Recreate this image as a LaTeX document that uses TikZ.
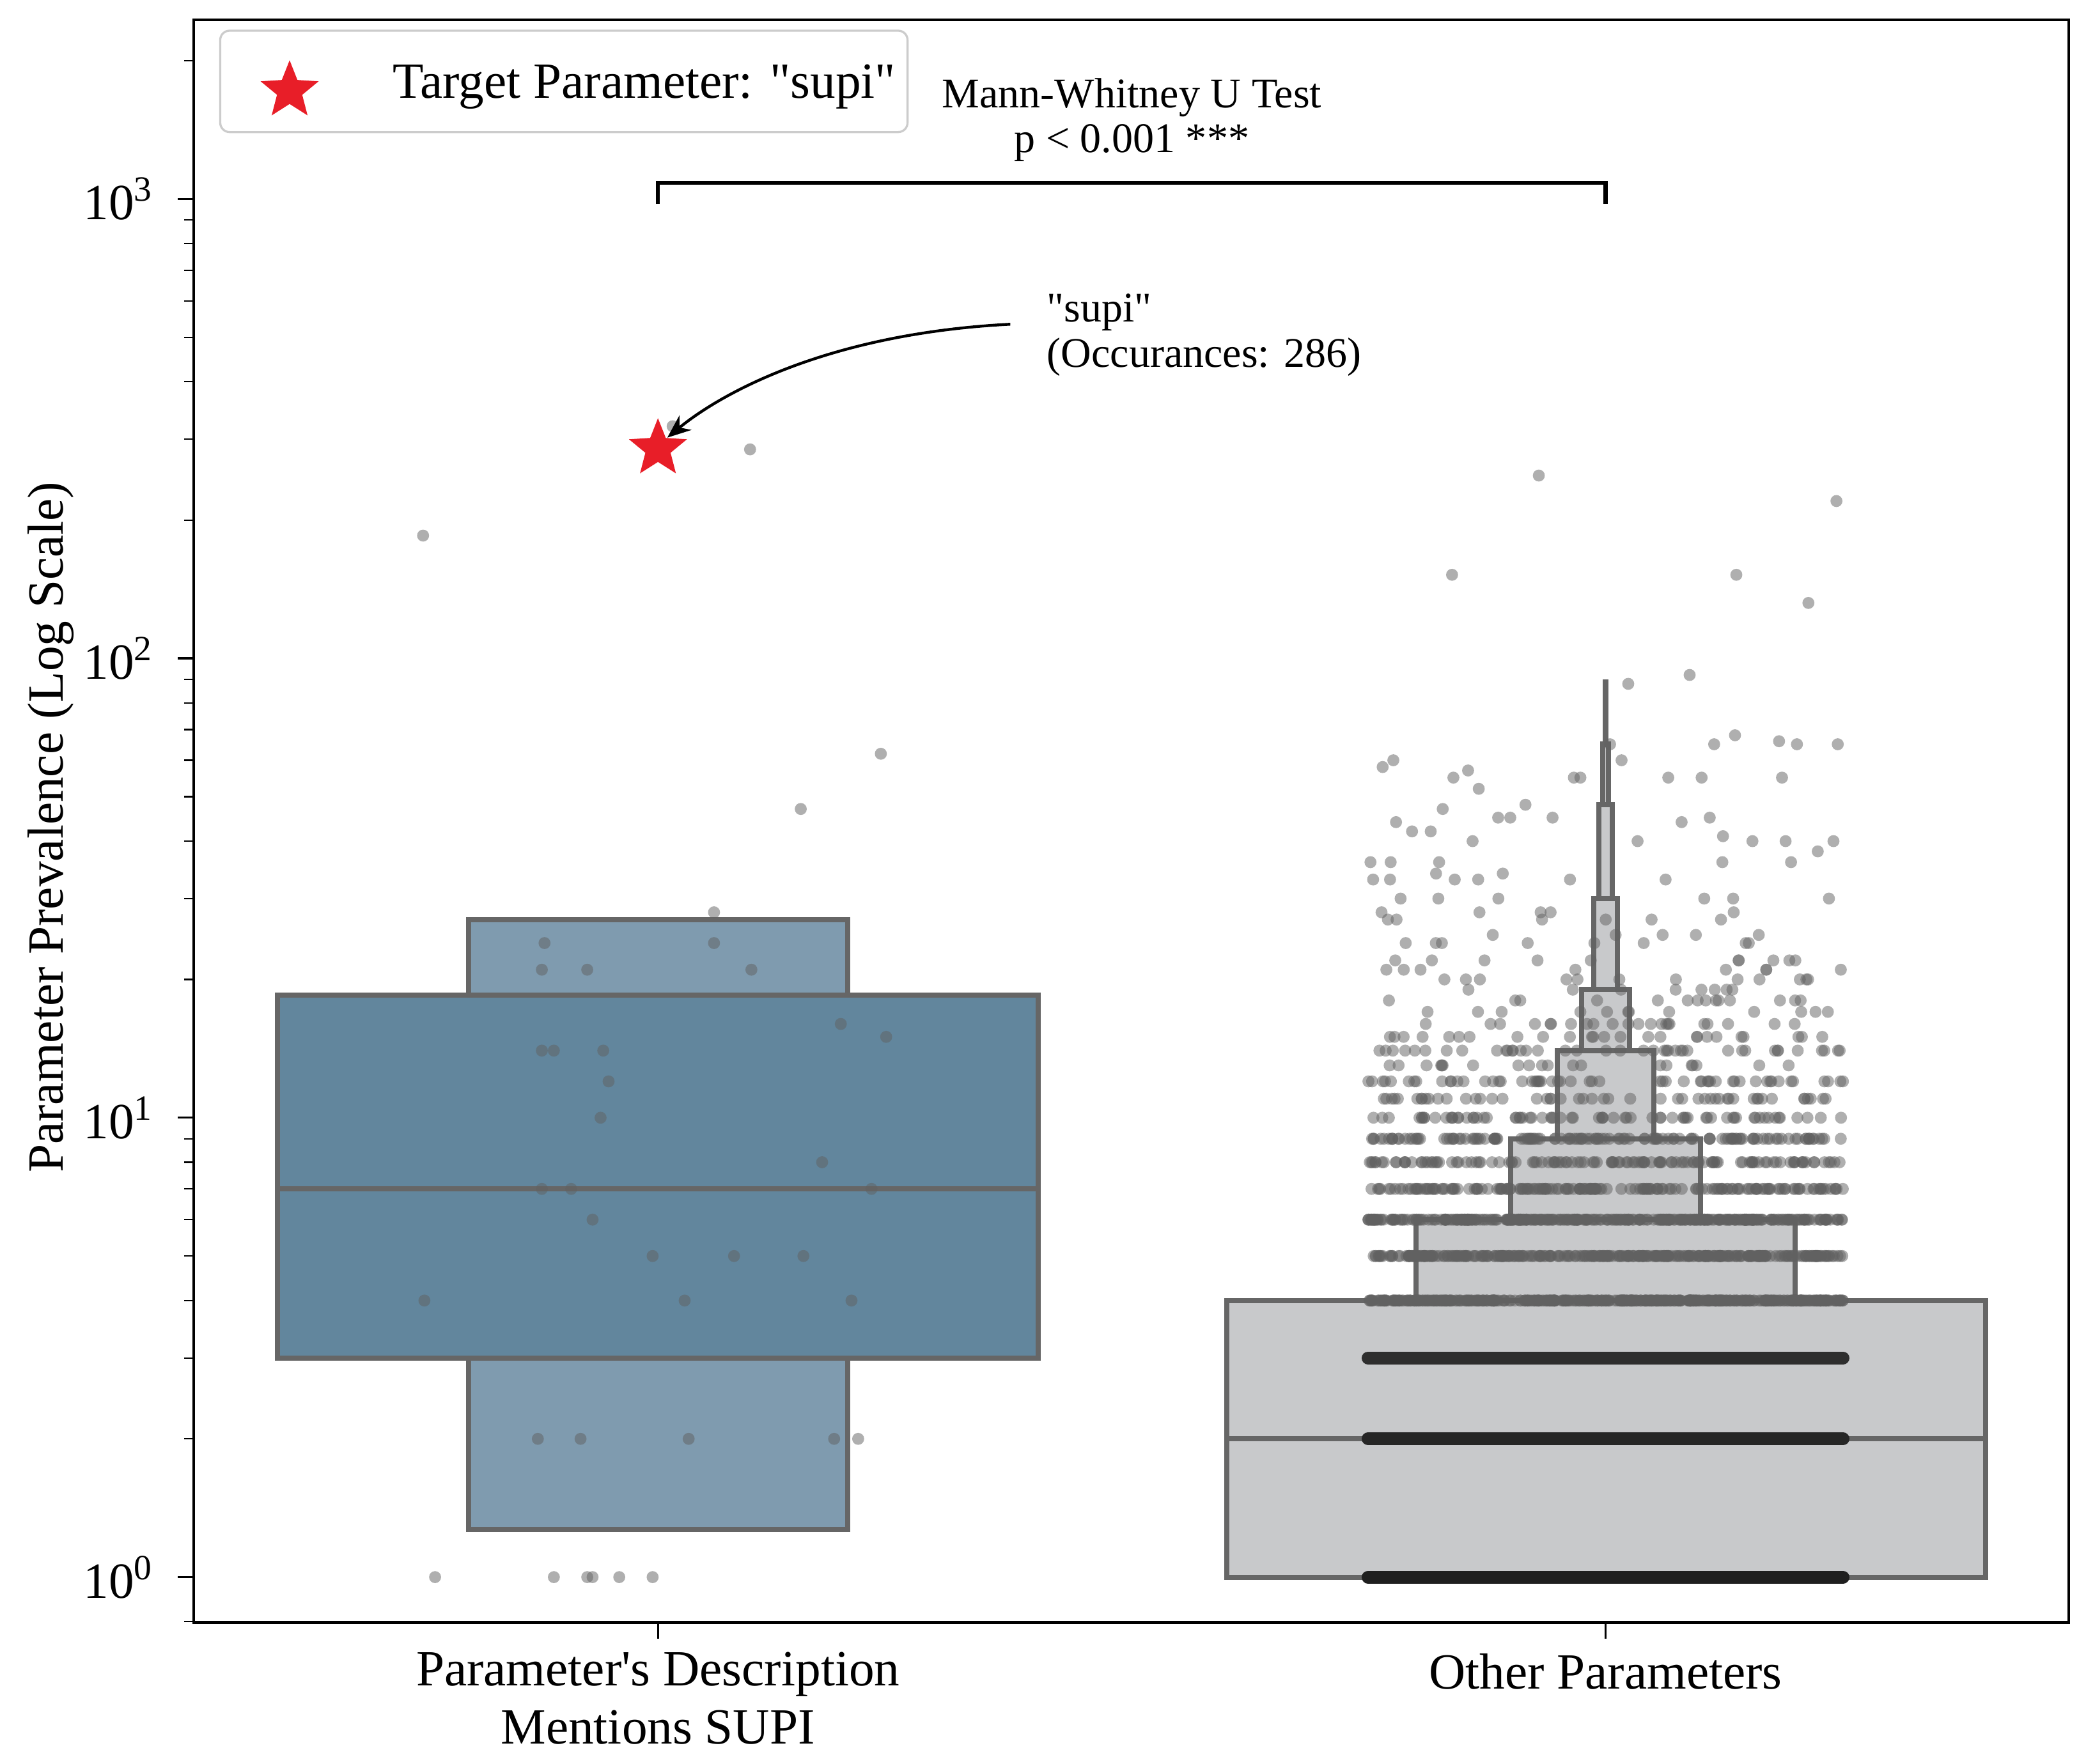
\documentclass[tikz,border=0pt]{standalone}
\usepackage{fontspec}
\setmainfont{Liberation Serif}
\usetikzlibrary{shapes.geometric,arrows.meta}
\newcommand{\qd}{\textquotedbl}
\begin{document}
\begin{tikzpicture}[x=0.01cm,y=-0.01cm,
  declare function={ly(\v)=1182-344.3*log10(\v);},
  box/.style={draw=black!60,line width=1.1pt},
  dot/.style={fill=black!62,fill opacity=0.5,draw=none},
  lab/.style={font=\fontsize{10.8pt}{12.4pt}\selectfont},
  ann/.style={font=\fontsize{9pt}{9.6pt}\selectfont}]
\useasboundingbox (0,0) rectangle (1563,1322);
\fill[fill=white] (145,15) rectangle (1550,1216);
\draw[box,fill={rgb,255:red,127;green,155;blue,175}] (351,{ly(1.27)}) rectangle (635,{ly(27)});
\draw[box,fill={rgb,255:red,98;green,134;blue,157}] (208,{ly(3)}) rectangle (778,{ly(18.5)});
\draw[box] (208,{ly(7)}) -- (778,{ly(7)});
\tikzset{gb/.style={box,fill={rgb,255:red,200;green,201;blue,203}}}
\draw[gb] (919,{ly(1)}) rectangle (1488,{ly(4)});
\draw[box] (919,{ly(2)}) -- (1488,{ly(2)});
\draw[gb] (1061,{ly(4)}) rectangle (1345,{ly(6)});
\draw[gb] (1132,{ly(6)}) rectangle (1274,{ly(9)});
\draw[gb] (1167,{ly(9)}) rectangle (1239,{ly(14)});
\draw[gb] (1185,{ly(14)}) rectangle (1221,{ly(19)});
\draw[gb] (1194,{ly(19)}) rectangle (1212,{ly(30)});
\draw[gb] (1198,{ly(30)}) rectangle (1208,{ly(48)});
\draw[gb] (1201,{ly(48)}) rectangle (1205,{ly(65)});
\draw[box] (1203,{ly(65)}) -- (1203,{ly(90)});
\foreach \x/\v in {317/185,504/320,562/285,660/62,600/47,535/28,408/24,535/24,406/21,440/21,563/21,630/16,664/15,406/14,415/14,452/14,456/12,450/10,616/8,406/7,428/7,653/7,444/6,489/5,550/5,602/5,318/4,513/4,638/4,403/2,435/2,516/2,625/2,643/2,326/1,415/1,440/1,444/1,464/1,489/1}
  \fill[dot] (\x,{ly(\v)}) circle (4.5);
\draw[line width=2.7pt,line cap=round,black!88] (1025,{ly(1)}) -- (1381,{ly(1)});
\draw[line width=2.7pt,line cap=round,black!85] (1025,{ly(2)}) -- (1381,{ly(2)});
\draw[line width=2.7pt,line cap=round,black!82] (1025,{ly(3)}) -- (1381,{ly(3)});
\pgfmathsetseed{7}
\foreach \v/\n in {4/420,5/300,6/320,7/170,8/120,9/130,10/70,11/50,12/55,13/20,14/40,15/25,16/22,17/12,18/14,19/8,20/12,21/8,22/10,24/8,25/5,27/6,28/5,30/6,33/4,36/4,40/4,45/4,55/4,65/3}{
  \foreach \i in {1,...,\n}{
    \pgfmathsetmacro\xx{1203+178*rand}
    \fill[dot] (\xx,{ly(\v)}) circle (4.5);
  }}
\foreach \x/\v in {1153/250,1376/220,1088/152,1301/152,1355/132,1266/92,1220/88,1215/60,1300/68,1333/66,1377/65,1036/58,1044/60,1100/57,1108/52,1250/55,1143/48,1081/47,1275/55,1260/44,1046/44,1058/42,1072/42,1291/41,1227/40,1362/38,1042/36,1076/34,1126/34,1248/33,1090/33}
  \fill[dot] (\x,{ly(\v)}) circle (4.5);
\draw[line width=0.6pt] (145,15) rectangle (1550,1216);
\foreach \e in {0,1,2,3}{
  \draw[line width=0.45pt] (145,{1182-344.3*\e}) -- (133,{1182-344.3*\e});
  \node[lab,anchor=east] at (128,{1182-344.3*\e}) {10\textsuperscript{\e}};
  \foreach \m in {2,...,9}{
    \pgfmathsetmacro\yy{1182-344.3*(\e+log10(\m))}
    \ifdim\yy pt>15pt \draw[line width=0.3pt] (145,\yy) -- (138,\yy);\fi
  }}
\draw[line width=0.3pt] (145,{1182+344.3*(1-log10(8))}) -- (138,{1182+344.3*(1-log10(8))});
\draw[line width=0.45pt] (493,1216) -- (493,1228) (1203,1216) -- (1203,1228);
\node[lab,align=center] (xl1) at (493,1273) {Parameter\textquotesingle s Description\\Mentions SUPI};
\node[lab] (xl3) at (1203,1253) {Other Parameters};
\node[lab,rotate=90] (yl) at (38,620) {Parameter Prevalence (Log Scale)};
\coordinate (b1) at (493,153); \coordinate (b2) at (1203,153);
\draw[line width=0.85pt] (b1) -- (493,137) -- (1203,137) -- (b2);
\node[ann,align=center] (mw) at (848,90) {Mann-Whitney U Test\\p < 0.001 ***};
\node[star,star points=5,star point ratio=2.3,fill={rgb,255:red,232;green,30;blue,40},minimum size=13pt,inner sep=0] (st) at (493,{ly(286)}) {};
\node[ann,align=left,anchor=west] (an) at (772,251) {\qd supi\qd\\(Occurances: 286)};
\coordinate (as) at (757,243);
\coordinate (ae) at (500,328);
\draw[line width=0.6pt,-{Stealth[length=5pt,width=4pt]}] (as) .. controls (620,250) and (540,295) .. (ae);
\draw[black!20,line width=0.45pt,fill=white,rounded corners=2pt] (165,23) rectangle (680,99);
\node[star,star points=5,star point ratio=2.3,fill={rgb,255:red,232;green,30;blue,40},minimum size=13pt,inner sep=0] (ls) at (217,68) {};
\node[lab,anchor=west] (lt) at (282,65) {Target Parameter: \qd supi\qd};
\end{tikzpicture}
\end{document}
